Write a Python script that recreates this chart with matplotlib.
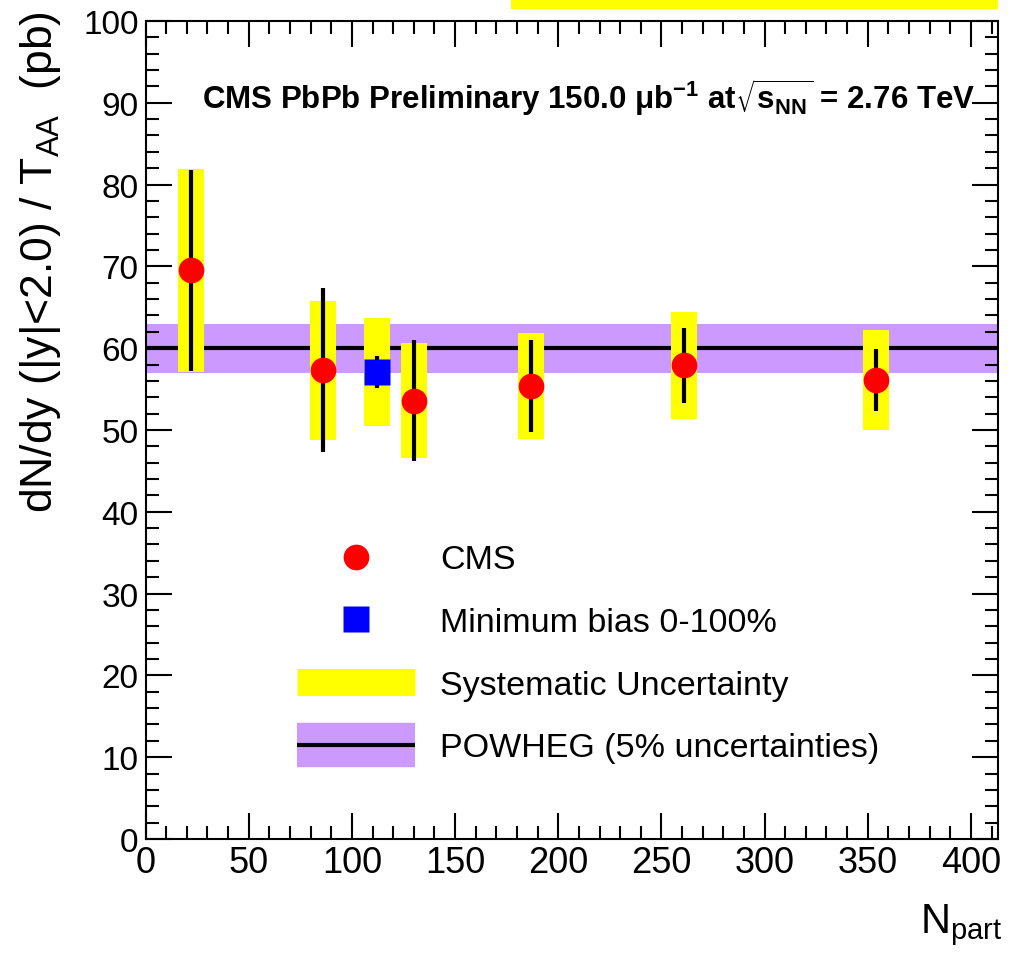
import numpy as np
import matplotlib
matplotlib.use('Agg')
import matplotlib.pyplot as plt
from matplotlib.lines import Line2D
from matplotlib.patches import Rectangle
from matplotlib.ticker import MultipleLocator

plt.rcParams['font.family'] = ['Liberation Sans', 'DejaVu Sans']
plt.rcParams['mathtext.default'] = 'regular'

# centrality bins (CMS points)
npart = [22, 86, 130, 187, 261, 354]
dndy = [69.5, 57.3, 53.6, 55.4, 57.9, 56.1]
stat_err = [12.3, 10.0, 7.4, 5.6, 4.6, 3.8]
syst_err = [12.4, 8.5, 7.0, 6.5, 6.5, 6.1]

# minimum bias 0-100%
mb_npart = [112]
mb_dndy = [57.1]
mb_stat = [2.0]
mb_syst = [6.6]

# POWHEG prediction
powheg = 60.0
powheg_unc = 0.05

syst_width = 12.6

fig = plt.figure(figsize=(10.14, 9.54), dpi=100)
ax = fig.add_axes([0.1435, 0.1195, 0.8405, 0.8575])

ax.axhspan(powheg*(1-powheg_unc), powheg*(1+powheg_unc), color='#cc99ff', lw=0, zorder=1)
ax.axhline(powheg, color='k', lw=3, zorder=2)

allx = npart + mb_npart
ally = dndy + mb_dndy
alls = syst_err + mb_syst
ax.bar(allx, [2*s for s in alls], bottom=[y - s for y, s in zip(ally, alls)],
       width=syst_width, color='#ffff00', lw=0, zorder=3)

ax.errorbar(npart, dndy, yerr=stat_err, fmt='none', ecolor='k', elinewidth=3, capsize=0, zorder=4)
ax.errorbar(mb_npart, mb_dndy, yerr=mb_stat, fmt='none', ecolor='k', elinewidth=3, capsize=0, zorder=4)
ax.plot(npart, dndy, 'o', color='#ff0000', ms=18.5, mec='none', zorder=5)
ax.plot(mb_npart, mb_dndy, 's', color='#0000ff', ms=18.5, mec='none', zorder=5)

ax.set_xlim(0, 413)
ax.set_ylim(0, 100)
ax.xaxis.set_major_locator(MultipleLocator(50))
ax.xaxis.set_minor_locator(MultipleLocator(10))
ax.yaxis.set_major_locator(MultipleLocator(10))
ax.yaxis.set_minor_locator(MultipleLocator(2))
ax.tick_params(which='both', direction='in', top=True, right=True, width=1.5)
ax.tick_params(which='major', length=19)
ax.tick_params(which='minor', length=9.5)
ax.tick_params(axis='x', labelsize=26, pad=4)
ax.tick_params(axis='y', labelsize=24, pad=5)
for sp in ax.spines.values():
    sp.set_linewidth(1.5)

ax.text(0.973, 0.907,
        r'CMS PbPb Preliminary 150.0 $\mu$b$^{-1}$ at$\sqrt{s_{NN}}$ = 2.76 TeV',
        transform=ax.transAxes, ha='right', va='center', fontsize=22.5, fontweight='bold')

fig.text(0.040, 1 - 11/954, 'dN/dy (|y|<2.0) / T$_{AA}$  (pb)', rotation=90,
         ha='center', va='top', fontsize=32)
fig.text(1003/1014, 1 - 925/954, 'N$_{part}$', ha='right', va='center', fontsize=30)

handles = [
    Line2D([], [], marker='o', color='#ff0000', ms=18.5, mec='none', ls='none'),
    Line2D([], [], marker='s', color='#0000ff', ms=18.5, mec='none', ls='none'),
    Line2D([], [], color='#ffff00', lw=19.5, solid_capstyle='butt'),
    (Line2D([], [], color='#cc99ff', lw=32, solid_capstyle='butt'),
     Line2D([], [], color='k', lw=3, solid_capstyle='butt')),
]
labels = ['CMS', 'Minimum bias 0-100%', 'Systematic Uncertainty', 'POWHEG (5% uncertainties)']
ax.legend(handles, labels, loc='upper left', bbox_to_anchor=(0.178, 0.360),
          frameon=False, fontsize=24.5, handlelength=3.47, handletextpad=0.72,
          labelspacing=0.93, borderpad=0, borderaxespad=0, numpoints=1)

# stray yellow box above the frame
fig.add_artist(Rectangle((511/1014, 1 - 10/954), 487/1014, 10/954,
                         transform=fig.transFigure, color='#ffff00', lw=0))

fig.savefig('out.png', dpi=100)
